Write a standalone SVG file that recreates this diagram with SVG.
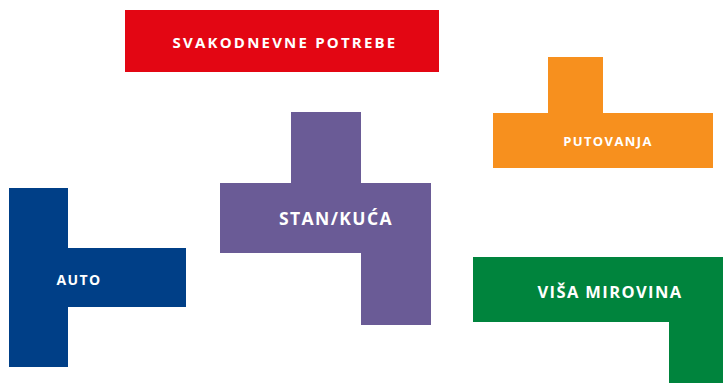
<svg xmlns="http://www.w3.org/2000/svg" width="723" height="383" viewBox="0 0 723 383">
<style>
text{font-family:"Open Sans","Lato","Liberation Sans",sans-serif;font-weight:700;fill:#ffffff;text-anchor:middle;dominant-baseline:central;letter-spacing:1.4px}
</style>
<rect width="723" height="383" fill="#ffffff"/>
<g id="svakodnevne">
<rect x="125" y="10" width="314" height="62" fill="#e30613"/>
<text x="285" y="42" font-size="15" style="letter-spacing:2.2px">SVAKODNEVNE POTREBE</text>
</g>
<g id="putovanja">
<path d="M548 57H603V113H713V168H493V113H548Z" fill="#f7901e"/>
<text x="608" y="141" font-size="13">PUTOVANJA</text>
</g>
<g id="stan">
<path d="M291 112H361V183H431V325H361V253H220V183H291Z" fill="#6a5b96"/>
<text x="336" y="218" font-size="17.5">STAN/KUĆA</text>
</g>
<g id="auto">
<path d="M9 188H68V248H186V307H68V367H9Z" fill="#003f87"/>
<text x="79" y="279" font-size="14">AUTO</text>
</g>
<g id="visa">
<path d="M473 257H723V383H669V322H473Z" fill="#00843d"/>
<text x="610" y="291" font-size="16.5">VIŠA MIROVINA</text>
</g>
<g id="connectors"/>
</svg>
